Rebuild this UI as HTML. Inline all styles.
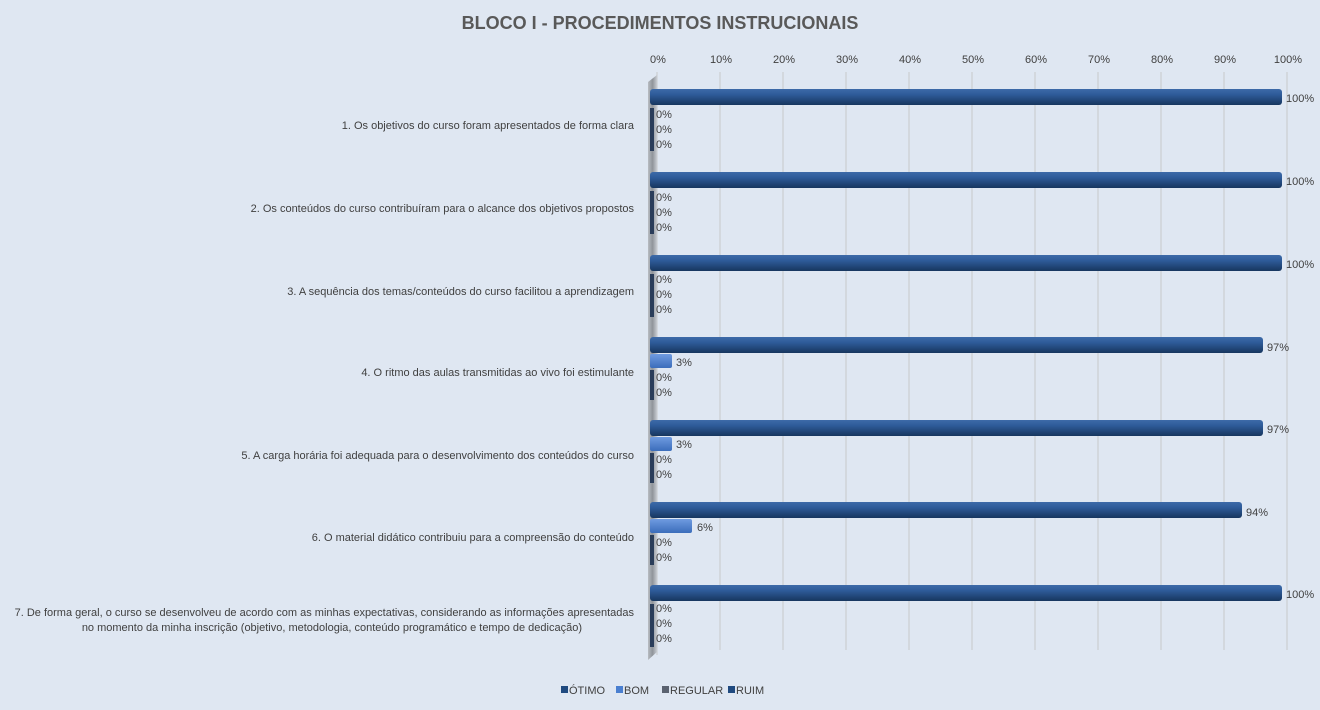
<!DOCTYPE html><html><head><meta charset="utf-8"><style>body{margin:0;background:#dfe7f2}svg{display:block;font-family:"Liberation Sans",sans-serif}</style></head><body>
<svg width="1320" height="710" xmlns="http://www.w3.org/2000/svg">
<defs>
<linearGradient id="o" x1="0" y1="0" x2="0" y2="1"><stop offset="0" stop-color="#3d6aa8"/><stop offset=".35" stop-color="#2e5b99"/><stop offset="1" stop-color="#17365f"/></linearGradient>
<linearGradient id="b" x1="0" y1="0" x2="0" y2="1"><stop offset="0" stop-color="#6f9be0"/><stop offset="1" stop-color="#3b6dbb"/></linearGradient>
<linearGradient id="w" x1="0" y1="0" x2="1" y2="0"><stop offset="0" stop-color="#b8bcc2"/><stop offset=".5" stop-color="#8f949a"/><stop offset="1" stop-color="#c8ccd2"/></linearGradient>
</defs>
<rect width="1320" height="710" fill="#dfe7f2"/>
<text x="660" y="29" text-anchor="middle" font-size="18" font-weight="bold" fill="#595959">BLOCO I - PROCEDIMENTOS  INSTRUCIONAIS</text>
<g stroke="#cfd3d8" stroke-width="1.5">
<line x1="657" y1="72" x2="657" y2="655"/><line x1="720" y1="72" x2="720" y2="650"/><line x1="783" y1="72" x2="783" y2="650"/><line x1="846" y1="72" x2="846" y2="650"/><line x1="909" y1="72" x2="909" y2="650"/><line x1="972" y1="72" x2="972" y2="650"/><line x1="1035" y1="72" x2="1035" y2="650"/><line x1="1098" y1="72" x2="1098" y2="650"/><line x1="1161" y1="72" x2="1161" y2="650"/><line x1="1224" y1="72" x2="1224" y2="650"/><line x1="1287" y1="72" x2="1287" y2="650"/>
</g>
<g font-size="11" fill="#404040" text-anchor="middle">
<text x="658" y="63">0%</text><text x="721" y="63">10%</text><text x="784" y="63">20%</text><text x="847" y="63">30%</text><text x="910" y="63">40%</text><text x="973" y="63">50%</text><text x="1036" y="63">60%</text><text x="1099" y="63">70%</text><text x="1162" y="63">80%</text><text x="1225" y="63">90%</text><text x="1288" y="63">100%</text>
</g>
<polygon points="648,82 657,75 657,652 648,660" fill="url(#w)"/>
<g font-size="11" fill="#404040" text-anchor="end">
<text x="634" y="129">1. Os objetivos do curso foram apresentados de forma clara</text>
<text x="634" y="212">2. Os conteúdos do curso contribuíram para o alcance dos objetivos propostos</text>
<text x="634" y="295">3. A sequência dos temas/conteúdos do curso facilitou a aprendizagem</text>
<text x="634" y="376">4. O ritmo das aulas transmitidas ao vivo foi estimulante</text>
<text x="634" y="459">5. A carga horária foi adequada para o desenvolvimento dos conteúdos do curso</text>
<text x="634" y="541">6. O material didático contribuiu para a compreensão do conteúdo</text>
<text x="634" y="616">7. De forma geral, o curso se desenvolveu de acordo com as minhas expectativas, considerando as informações apresentadas</text>
<text x="582" y="631">no momento da minha inscrição (objetivo, metodologia, conteúdo programático e tempo de dedicação)</text>
</g>
<g fill="url(#o)">
<rect x="650" y="89" width="632" height="16" rx="3"/>
<rect x="650" y="172" width="632" height="16" rx="3"/>
<rect x="650" y="255" width="632" height="16" rx="3"/>
<rect x="650" y="337" width="613" height="16" rx="3"/>
<rect x="650" y="420" width="613" height="16" rx="3"/>
<rect x="650" y="502" width="592" height="16" rx="3"/>
<rect x="650" y="585" width="632" height="16" rx="3"/>
</g>
<g fill="url(#b)">
<rect x="650" y="354" width="22" height="14" rx="2"/>
<rect x="650" y="437" width="22" height="14" rx="2"/>
<rect x="650" y="519" width="42" height="14" rx="2"/>
</g>
<g fill="#2a3d5a">
<rect x="650" y="108" width="4" height="43"/><rect x="650" y="191" width="4" height="43"/><rect x="650" y="274" width="4" height="43"/><rect x="650" y="370" width="4" height="30"/><rect x="650" y="453" width="4" height="30"/><rect x="650" y="535" width="4" height="30"/><rect x="650" y="604" width="4" height="43"/>
</g>
<g font-size="11" fill="#404040">
<text x="1286" y="102">100%</text><text x="656" y="118">0%</text><text x="656" y="133">0%</text><text x="656" y="148">0%</text>
<text x="1286" y="185">100%</text><text x="656" y="201">0%</text><text x="656" y="216">0%</text><text x="656" y="231">0%</text>
<text x="1286" y="268">100%</text><text x="656" y="283">0%</text><text x="656" y="298">0%</text><text x="656" y="313">0%</text>
<text x="1267" y="351">97%</text><text x="676" y="366">3%</text><text x="656" y="381">0%</text><text x="656" y="396">0%</text>
<text x="1267" y="433">97%</text><text x="676" y="448">3%</text><text x="656" y="463">0%</text><text x="656" y="478">0%</text>
<text x="1246" y="516">94%</text><text x="697" y="531">6%</text><text x="656" y="546">0%</text><text x="656" y="561">0%</text>
<text x="1286" y="598">100%</text><text x="656" y="612">0%</text><text x="656" y="627">0%</text><text x="656" y="642">0%</text>
</g>
<g font-size="11" fill="#404040">
<rect x="561" y="686" width="7" height="7" fill="#1f4a80"/><text x="569" y="694">ÓTIMO</text>
<rect x="616" y="686" width="7" height="7" fill="#4a7fd0"/><text x="624" y="694">BOM</text>
<rect x="662" y="686" width="7" height="7" fill="#5a6270"/><text x="670" y="694">REGULAR</text>
<rect x="728" y="686" width="7" height="7" fill="#1f4a80"/><text x="736" y="694">RUIM</text>
</g>
</svg>
</body></html>
